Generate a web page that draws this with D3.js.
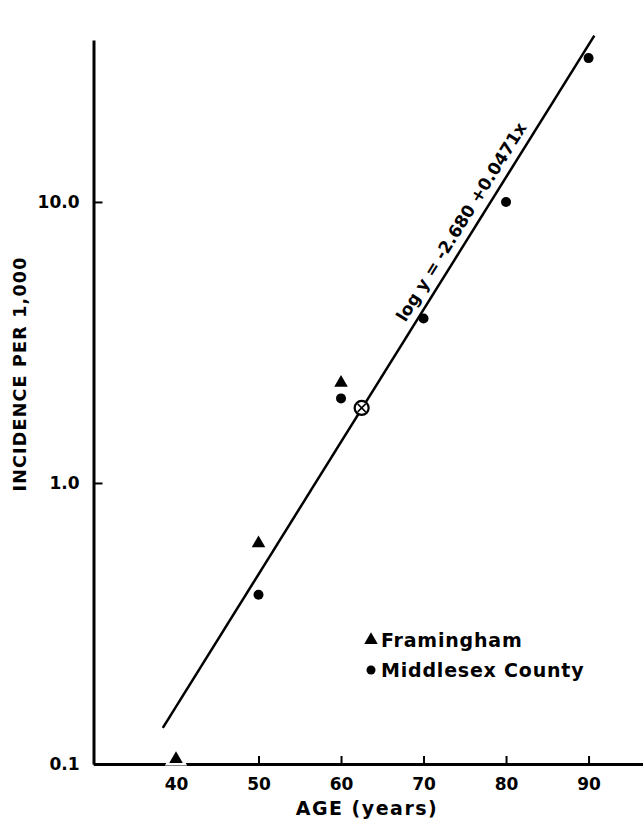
<!DOCTYPE html>
<html>
<head>
<meta charset="utf-8">
<script src="https://cdn.jsdelivr.net/npm/d3@7"></script>
<style>
  body { margin: 0; background: #fff; }
  svg text { font-family: "DejaVu Sans", sans-serif; font-weight: bold; fill: #000; }
</style>
</head>
<body>
<div id="chart"></div>
<script>
// values
const framinghamAge = [40, 50, 60];
const framinghamRate = [0.1, 0.61, 2.27];
const middlesexAge = [50, 60, 70, 80, 90];
const middlesexRate = [0.40, 2.0, 3.85, 10.0, 32.5];
const meanPoint = [62.5, 1.85];
const fitIntercept = -2.680, fitSlope = 0.0471;
const fitRange = [38.4, 90.7];
const xTicks = [40, 50, 60, 70, 80, 90];
const yTicks = [0.1, 1, 10];
const yTickLabels = ["0.1", "1.0", "10.0"];

(function incidence_chart() {
  const width = 643, height = 822;

  const svg = d3.select("#chart")
    .append("svg")
    .attr("width", width)
    .attr("height", height);

  const x = d3.scaleLinear([30, 96.6], [93.5, 643]);
  const y = d3.scaleLog([0.1, 37.7], [764, 40]);

  // axes
  svg.append("g")
    .attr("transform", `translate(0,${y(0.1)})`)
    .call(d3.axisBottom(x).tickValues(xTicks).tickSize(-8).tickSizeOuter(0).tickPadding(14))
    .call(g => g.select(".domain").attr("stroke-width", 3))
    .call(g => g.selectAll(".tick line").attr("stroke-width", 2))
    .call(g => g.selectAll(".tick text").attr("font-size", 17));

  svg.append("g")
    .attr("transform", `translate(${x(30)},0)`)
    .call(d3.axisLeft(y).tickValues(yTicks).tickSize(-9).tickSizeOuter(0).tickPadding(14)
      .tickFormat((d, i) => yTickLabels[i]))
    .call(g => g.select(".domain").attr("stroke-width", 3))
    .call(g => g.selectAll(".tick line").attr("stroke-width", 2))
    .call(g => g.selectAll(".tick text").attr("font-size", 17));

  svg.append("text")
    .attr("text-anchor", "middle")
    .attr("transform", `translate(26,${(258 + 490) / 2}) rotate(-90)`)
    .attr("font-size", 17.5)
    .attr("letter-spacing", 1.2)
    .text("INCIDENCE PER 1,000");

  svg.append("text")
    .attr("text-anchor", "middle")
    .attr("x", 367)
    .attr("y", 815)
    .attr("font-size", 19)
    .attr("letter-spacing", 1.5)
    .text("AGE (years)");

  // regression line
  const fit = a => Math.pow(10, fitIntercept + fitSlope * a);
  svg.append("line")
    .attr("x1", x(fitRange[0])).attr("y1", y(fit(fitRange[0])))
    .attr("x2", x(fitRange[1])).attr("y2", y(fit(fitRange[1])))
    .attr("stroke", "#000")
    .attr("stroke-width", 2.5);

  const angle = Math.atan2(y(fit(80)) - y(fit(70)), x(80) - x(70)) * 180 / Math.PI;
  const lx = x(67.8), ly = y(fit(67.8)) - 16;
  svg.append("text")
    .attr("transform", `translate(${lx},${ly}) rotate(${angle})`)
    .attr("font-size", 17)
    .text("log y = -2.680 +0.0471x");

  const tri = d3.symbol().type(d3.symbolTriangle).size(80);

  // Framingham
  svg.append("g")
    .selectAll("path")
    .data(framinghamAge.map((a, i) => [a, framinghamRate[i]]))
    .join("path")
    .attr("d", tri)
    .attr("transform", d => `translate(${x(d[0])},${y(d[1]) - (d[1] === 0.1 ? 5 : 0)})`)
    .attr("fill", "#000")
    .attr("stroke", (d) => d[1] === 0.1 ? "#fff" : "none")
    .attr("stroke-width", 5)
    .attr("paint-order", "stroke");

  // Middlesex County
  svg.append("g")
    .selectAll("circle")
    .data(middlesexAge.map((a, i) => [a, middlesexRate[i]]))
    .join("circle")
    .attr("cx", d => x(d[0]))
    .attr("cy", d => y(d[1]))
    .attr("r", 5)
    .attr("fill", "#000");

  // mean point
  const mp = svg.append("g")
    .attr("transform", `translate(${x(meanPoint[0])},${y(meanPoint[1])})`);
  mp.append("circle").attr("r", 7).attr("fill", "#fff").attr("stroke", "#000").attr("stroke-width", 2.2);
  mp.append("path").attr("d", "M-4,-4L4,4M4,-4L-4,4").attr("stroke", "#000").attr("stroke-width", 1.5);

  // legend
  const legend = svg.append("g").attr("transform", "translate(371,640)");
  legend.append("path").attr("d", tri).attr("fill", "#000");
  legend.append("circle").attr("cy", 30).attr("r", 4.5).attr("fill", "#000");
  legend.append("text").attr("x", 10).attr("y", 7).attr("font-size", 19).attr("letter-spacing", 0.8).text("Framingham");
  legend.append("text").attr("x", 10).attr("y", 37).attr("font-size", 19).attr("letter-spacing", 0.8).text("Middlesex  County");
})();
</script>
</body>
</html>
